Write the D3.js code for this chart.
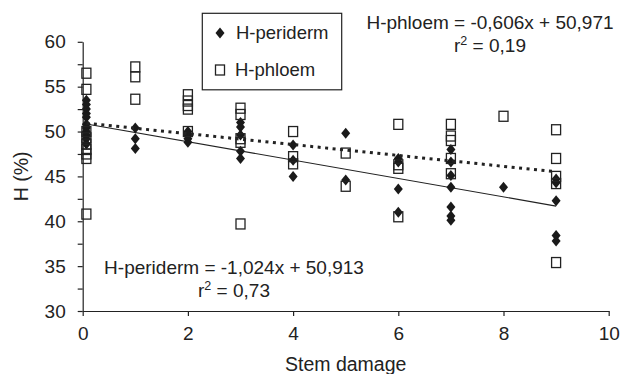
<!DOCTYPE html>
<html>
<head>
<meta charset="utf-8">
<script src="https://cdn.jsdelivr.net/npm/d3@7"></script>
<style>
  body { margin: 0; background: #fff; }
  svg { display: block; font-family: "Liberation Sans", Arial, sans-serif; }
  .axis text { font-size: 19px; fill: #222; }
  .axis path, .axis line { stroke: #222; stroke-width: 1.2; }
</style>
</head>
<body>
<div id="chart"></div>
<script>
// data
var periDamage = [0.07,0.07,0.07,0.07,0.07,0.07,0.07,0.07,0.07,0.07,0.07,
                  1,1,1, 2,2,2,2, 3,3,3,3,3, 4,4,4, 5,5, 6,6,6,6,
                  7,7,7,7,7,7,7, 8, 9,9,9,9,9];
var periH = [53.5,53.0,52.5,52.0,51.6,50.8,50.4,50.0,49.6,49.2,48.6,
             50.4,49.2,48.1, 50.0,49.6,49.2,48.8, 51.0,50.5,49.6,47.8,47.0,
             48.5,46.8,45.0, 49.8,44.6, 47.0,46.6,43.6,41.0,
             48.0,46.6,45.1,43.8,41.6,40.6,40.1, 43.8, 44.7,44.3,42.3,38.4,37.8];

var phlDamage = [0.07,0.07,0.07,0.07,0.07,0.07,0.07,0.07,0.07,
                 1,1,1, 2,2,2,2,2, 3,3,3,3,3, 4,4,4, 5,5, 6,6,6,6,
                 7,7,7,7,7, 8, 9,9,9,9,9];
var phlH = [56.5,54.7,50.0,49.3,48.6,48.0,47.5,47.0,40.8,
            57.2,56.1,53.6, 54.1,53.4,52.9,52.5,50.0, 52.6,51.9,49.2,48.8,39.7,
            50.0,47.2,46.4, 47.6,43.9, 50.8,46.3,45.9,40.5,
            50.8,49.5,49.0,47.0,45.3, 51.7, 50.2,47.0,45.0,44.2,35.4];

// trendlines: [slope, intercept]
var periFit = [-1.024, 50.913];
var phlFit = [-0.606, 50.971];
var fitRange = [0.07, 9];

var xTicks = [0, 2, 4, 6, 8, 10];
var yTicks = [30, 32.5, 35, 37.5, 40, 42.5, 45, 47.5, 50, 52.5, 55, 57.5, 60];

var width = 622, height = 374;
var svg = d3.select("#chart").append("svg")
    .attr("width", width)
    .attr("height", height);

var x = d3.scaleLinear().domain([0, 10]).range([82.7, 608.7]);
var y = d3.scaleLinear().domain([30, 60]).range([311, 41.8]);

// axes
svg.append("g")
    .attr("class", "axis")
    .attr("transform", "translate(0," + y(30) + ")")
    .call(d3.axisBottom(x).tickValues(xTicks).tickSize(5).tickSizeOuter(0).tickPadding(11));

svg.append("g")
    .attr("class", "axis")
    .attr("transform", "translate(" + x(0) + ",0)")
    .call(d3.axisLeft(y).tickValues(yTicks).tickSize(5).tickSizeOuter(0).tickPadding(12)
        .tickFormat(function(d) { return d % 5 === 0 ? d : ""; }));

// trendlines
var fitLine = d3.line()
    .x(function(d) { return x(d[0]); })
    .y(function(d) { return y(d[1]); });

function fitPoints(fit) {
  return fitRange.map(function(v) { return [v, fit[0] * v + fit[1]]; });
}

svg.append("path")
    .attr("d", fitLine(fitPoints(periFit)))
    .attr("fill", "none")
    .attr("stroke", "#222")
    .attr("stroke-width", 1.2);

// markers
var diamond = "M0,-5.5L4.5,0L0,5.5L-4.5,0Z";

svg.append("g")
  .selectAll("path")
  .data(periH)
  .enter().append("path")
    .attr("d", diamond)
    .attr("transform", function(d, i) { return "translate(" + x(periDamage[i]) + "," + y(d) + ")"; })
    .attr("fill", "#1a1a1a");

svg.append("g")
  .selectAll("rect")
  .data(phlH)
  .enter().append("rect")
    .attr("x", function(d, i) { return x(phlDamage[i]) - 4.5; })
    .attr("y", function(d) { return y(d) - 5; })
    .attr("width", 9)
    .attr("height", 10)
    .attr("fill", "none")
    .attr("stroke", "#222")
    .attr("stroke-width", 1.3);

svg.append("path")
    .attr("d", fitLine(fitPoints(phlFit)))
    .attr("fill", "none")
    .attr("stroke", "#222")
    .attr("stroke-width", 3)
    .attr("stroke-dasharray", "3,4.5");

// axis titles
svg.append("text")
    .attr("x", (x(0) + x(10)) / 2)
    .attr("y", 370.5)
    .attr("text-anchor", "middle")
    .attr("font-size", 19.5)
    .attr("fill", "#222")
    .text("Stem damage");

svg.append("text")
    .attr("transform", "translate(28," + (y(45)) + ") rotate(-90)")
    .attr("text-anchor", "middle")
    .attr("font-size", 19.5)
    .attr("fill", "#222")
    .text("H (%)");

// legend
var legend = svg.append("g");
legend.append("rect")
    .attr("x", 202.3).attr("y", 13.3)
    .attr("width", 139.4).attr("height", 76.5)
    .attr("fill", "#fff")
    .attr("stroke", "#222")
    .attr("stroke-width", 1.2);
legend.append("path")
    .attr("d", diamond)
    .attr("transform", "translate(220,33)")
    .attr("fill", "#1a1a1a");
legend.append("rect")
    .attr("x", 215.5).attr("y", 65)
    .attr("width", 9).attr("height", 10)
    .attr("fill", "none")
    .attr("stroke", "#222")
    .attr("stroke-width", 1.3);
legend.append("text")
    .attr("x", 236).attr("y", 38.5)
    .attr("font-size", 18.5).attr("fill", "#222")
    .text("H-periderm");
legend.append("text")
    .attr("x", 235).attr("y", 75.5)
    .attr("font-size", 18.5).attr("fill", "#222")
    .text("H-phloem");

// equations
function equation(cx, y1, line1, r2) {
  var g = svg.append("g").attr("font-size", 19).attr("fill", "#222").attr("text-anchor", "middle");
  g.append("text").attr("x", cx).attr("y", y1).text(line1);
  var t = g.append("text").attr("x", cx).attr("y", y1 + 23.4);
  t.append("tspan").text("r");
  t.append("tspan").attr("font-size", 12.5).attr("dy", -7).text("2");
  t.append("tspan").attr("dy", 7).text(" = " + r2);
}
equation(490, 28.5, "H-phloem = -0,606x + 50,971", "0,19");
equation(234, 273.5, "H-periderm = -1,024x + 50,913", "0,73");
</script>
</body>
</html>
